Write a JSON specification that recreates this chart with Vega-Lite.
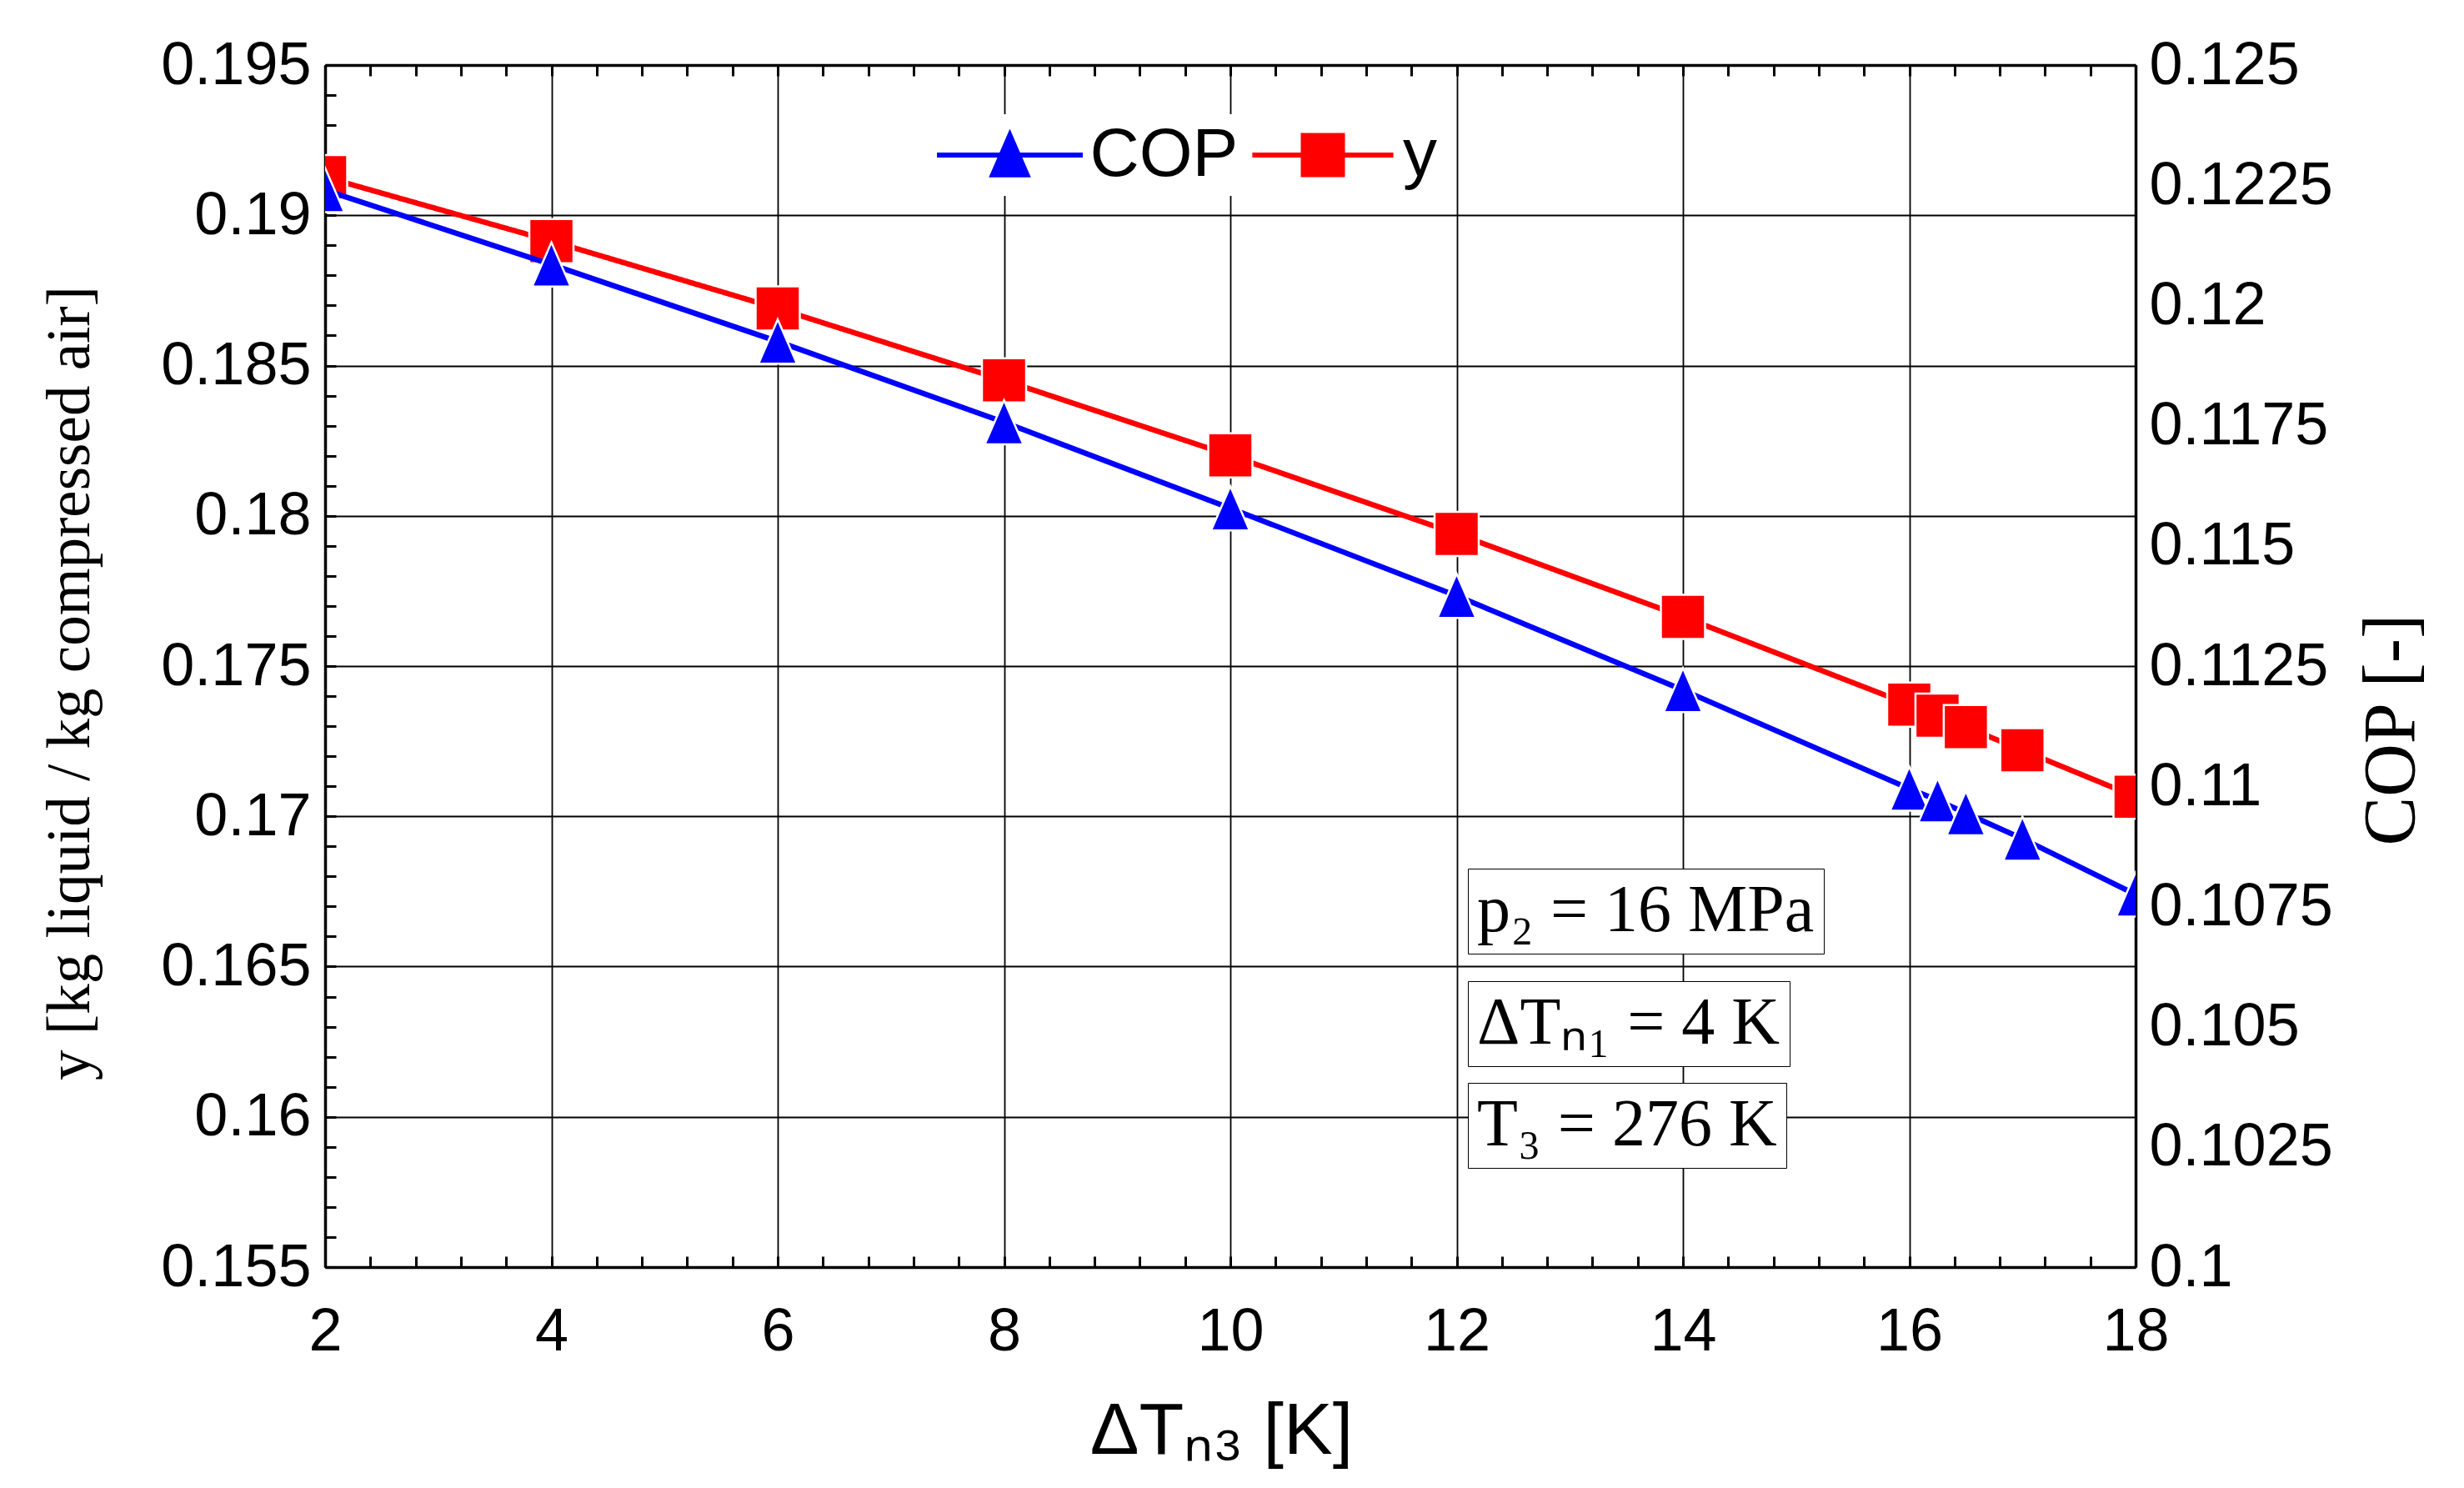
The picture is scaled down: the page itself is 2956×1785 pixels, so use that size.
{
  "$schema": "https://vega.github.io/schema/vega-lite/v6.json",
  "width": 2172,
  "height": 1442,
  "autosize": {"type": "none"},
  "padding": {"left": 390, "top": 78, "right": 394, "bottom": 265},
  "background": "white",
  "data": {
    "values": [
      {"dT": 2, "series": "y", "value": 0.19127},
      {"dT": 4, "series": "y", "value": 0.18914},
      {"dT": 6, "series": "y", "value": 0.1869},
      {"dT": 8, "series": "y", "value": 0.18451},
      {"dT": 10, "series": "y", "value": 0.18201},
      {"dT": 12, "series": "y", "value": 0.1794},
      {"dT": 14, "series": "y", "value": 0.17664},
      {"dT": 16, "series": "y", "value": 0.17372},
      {"dT": 16.25, "series": "y", "value": 0.17335},
      {"dT": 16.5, "series": "y", "value": 0.17297},
      {"dT": 17, "series": "y", "value": 0.1722},
      {"dT": 18, "series": "y", "value": 0.17065},
      {"dT": 2, "series": "COP", "value": 0.1224},
      {"dT": 4, "series": "COP", "value": 0.12085},
      {"dT": 6, "series": "COP", "value": 0.11925},
      {"dT": 8, "series": "COP", "value": 0.11757},
      {"dT": 10, "series": "COP", "value": 0.11578},
      {"dT": 12, "series": "COP", "value": 0.11396},
      {"dT": 14, "series": "COP", "value": 0.112},
      {"dT": 16, "series": "COP", "value": 0.10995},
      {"dT": 16.25, "series": "COP", "value": 0.10971},
      {"dT": 16.5, "series": "COP", "value": 0.10944},
      {"dT": 17, "series": "COP", "value": 0.10891},
      {"dT": 18, "series": "COP", "value": 0.10775}
    ]
  },
  "layer": [
    {
      "transform": [{"filter": "datum.series === 'y'"}],
      "encoding": {
        "x": {
          "field": "dT",
          "type": "quantitative",
          "scale": {"domain": [2, 18], "nice": false, "zero": false},
          "axis": {
            "orient": "bottom",
            "values": [2, 2.4, 2.8, 3.2, 3.6, 4, 4.4, 4.8, 5.2, 5.6, 6, 6.4, 6.8, 7.2, 7.6, 8, 8.4, 8.8, 9.2, 9.6, 10, 10.4, 10.8, 11.2, 11.6, 12, 12.4, 12.8, 13.2, 13.6, 14, 14.4, 14.8, 15.2, 15.6, 16, 16.4, 16.8, 17.2, 17.6, 18],
            "format": "~g",
            "labelExpr": "datum.value % 2 === 0 ? datum.label : ''",
            "grid": true,
            "gridOpacity": {"condition": {"test": "datum.value % 2 === 0", "value": 1}, "value": 0},
            "tickSize": -13,
            "labelPadding": 55,
            "labelFlush": false,
            "labelOverlap": false,
            "labelBound": false,
            "title": "ΔTₙ₃ [K]",
            "titleFont": "Liberation Sans",
            "titleFontSize": 88,
            "titleX": 1075,
            "titleY": 223,
            "titleBaseline": "alphabetic",
            "titleAlign": "center"
          }
        },
        "y": {
          "field": "value",
          "type": "quantitative",
          "scale": {"domain": [0.155, 0.195], "nice": false, "zero": false},
          "axis": {
            "orient": "left",
            "values": [0.155, 0.156, 0.157, 0.158, 0.159, 0.16, 0.161, 0.162, 0.163, 0.164, 0.165, 0.166, 0.167, 0.168, 0.169, 0.17, 0.171, 0.172, 0.173, 0.174, 0.175, 0.176, 0.177, 0.178, 0.179, 0.18, 0.181, 0.182, 0.183, 0.184, 0.185, 0.186, 0.187, 0.188, 0.189, 0.19, 0.191, 0.192, 0.193, 0.194, 0.195],
            "format": ".3~f",
            "labelExpr": "abs(datum.value * 200 - round(datum.value * 200)) < 0.01 ? datum.label : ''",
            "grid": true,
            "gridOpacity": {"condition": {"test": "abs(datum.value * 200 - round(datum.value * 200)) < 0.01", "value": 1}, "value": 0},
            "tickSize": -13,
            "labelPadding": 30,
            "labelOverlap": false,
            "labelBound": false,
            "title": "y [kg liquid / kg compressed air]",
            "titleFont": "Liberation Serif",
            "titleFontSize": 73,
            "titleAngle": 270,
            "titleX": -284,
            "titleY": 741,
            "titleBaseline": "alphabetic",
            "titleAlign": "center"
          }
        }
      },
      "layer": [
        {
          "mark": {"type": "line", "color": "#ff0000", "clip": true},
          "encoding": {
            "strokeDash": {
              "datum": "p₂ = 16 MPa",
              "type": "nominal",
              "scale": {"range": [[1, 0]]},
              "legend": {
                "orient": "none", "legendX": 1371, "legendY": 964, "title": null,
                "fillColor": "white", "strokeColor": "black", "padding": 11,
                "labelFont": "Liberation Serif", "labelFontSize": 80, "labelColor": "black", "labelLimit": 1000,
                "symbolOpacity": 0, "symbolSize": 0, "symbolStrokeWidth": 0, "labelOffset": -80,
                "encode": {"legend": {"strokeWidth": {"value": 3}}}
              }
            },
            "strokeWidth": {
              "datum": "T₃ = 276 K",
              "type": "nominal",
              "scale": {"range": [6.5, 6.5]},
              "legend": {
                "orient": "none", "legendX": 1371, "legendY": 1221, "title": null,
                "fillColor": "white", "strokeColor": "black", "padding": 11,
                "labelFont": "Liberation Serif", "labelFontSize": 80, "labelColor": "black", "labelLimit": 1000,
                "symbolOpacity": 0, "symbolSize": 0, "symbolStrokeWidth": 0, "labelOffset": -80,
                "encode": {"legend": {"strokeWidth": {"value": 3}}}
              }
            }
          }
        },
        {
          "mark": {"type": "point", "shape": "square", "filled": true, "size": 2809, "stroke": "white", "strokeWidth": 2.5, "opacity": 1, "clip": true},
          "encoding": {
            "color": {
              "field": "series",
              "type": "nominal",
              "scale": {"domain": ["y"], "range": ["#ff0000"]},
              "legend": {
                "orient": "none", "legendX": 1104, "legendY": 59, "title": null,
                "fillColor": "white", "padding": 8,
                "labelFont": "Liberation Sans", "labelFontSize": 82, "labelColor": "black", "labelLimit": 1000,
                "labelOffset": 55, "symbolOffset": 44, "symbolSize": 2209,
                "symbolType": "M-3.6,0H3.6M-1,-1H1V1H-1Z",
                "symbolFillColor": "#ff0000", "symbolStrokeColor": "#ff0000", "symbolStrokeWidth": 6, "symbolOpacity": 1
              }
            }
          }
        }
      ]
    },
    {
      "transform": [{"filter": "datum.series === 'COP'"}],
      "encoding": {
        "x": {
          "field": "dT",
          "type": "quantitative",
          "scale": {"domain": [2, 18], "nice": false, "zero": false},
          "axis": {
            "orient": "top",
            "values": [2, 2.4, 2.8, 3.2, 3.6, 4, 4.4, 4.8, 5.2, 5.6, 6, 6.4, 6.8, 7.2, 7.6, 8, 8.4, 8.8, 9.2, 9.6, 10, 10.4, 10.8, 11.2, 11.6, 12, 12.4, 12.8, 13.2, 13.6, 14, 14.4, 14.8, 15.2, 15.6, 16, 16.4, 16.8, 17.2, 17.6, 18],
            "labels": false,
            "grid": false,
            "tickSize": -13,
            "title": null
          }
        },
        "y": {
          "field": "value",
          "type": "quantitative",
          "scale": {"domain": [0.1, 0.125], "nice": false, "zero": false},
          "axis": {
            "orient": "right",
            "values": [0.1, 0.1025, 0.105, 0.1075, 0.11, 0.1125, 0.115, 0.1175, 0.12, 0.1225, 0.125],
            "format": ".4~f",
            "ticks": false,
            "grid": false,
            "labelPadding": 16,
            "labelOverlap": false,
            "labelBound": false,
            "title": "COP [-]",
            "titleFont": "Liberation Serif",
            "titleFontSize": 88,
            "titleAngle": 270,
            "titleX": 333,
            "titleY": 797,
            "titleBaseline": "alphabetic",
            "titleAlign": "center"
          }
        }
      },
      "layer": [
        {
          "mark": {"type": "line", "color": "#0000ff", "strokeWidth": 6.5, "clip": true},
          "encoding": {
            "opacity": {
              "datum": "ΔTₙ₁ = 4 K",
              "type": "nominal",
              "scale": {"range": [1, 1]},
              "legend": {
                "orient": "none", "legendX": 1371, "legendY": 1099, "title": null,
                "fillColor": "white", "strokeColor": "black", "padding": 11,
                "labelFont": "Liberation Serif", "labelFontSize": 80, "labelColor": "black", "labelLimit": 1000,
                "symbolOpacity": 0, "symbolSize": 0, "symbolStrokeWidth": 0, "labelOffset": -80,
                "encode": {"legend": {"strokeWidth": {"value": 3}}}
              }
            }
          }
        },
        {
          "mark": {"type": "point", "shape": "M0,-1L0.87,1L-0.87,1Z", "filled": true, "size": 2809, "stroke": "white", "strokeWidth": 2.5, "opacity": 1, "clip": true},
          "encoding": {
            "color": {
              "field": "series",
              "type": "nominal",
              "scale": {"domain": ["COP"], "range": ["#0000ff"]},
              "legend": {
                "orient": "none", "legendX": 726, "legendY": 59, "title": null,
                "fillColor": "white", "padding": 8,
                "labelFont": "Liberation Sans", "labelFontSize": 82, "labelColor": "black", "labelLimit": 1000,
                "labelOffset": 55, "symbolOffset": 46.5, "symbolSize": 2809,
                "symbolType": "M-3.3,0H3.3M0,-0.9L0.78,0.9L-0.78,0.9Z",
                "symbolFillColor": "#0000ff", "symbolStrokeColor": "#0000ff", "symbolStrokeWidth": 6, "symbolOpacity": 1
              }
            }
          }
        }
      ]
    }
  ],
  "resolve": {"scale": {"y": "independent", "color": "independent"}, "axis": {"x": "independent"}, "legend": {"color": "independent"}},
  "config": {
    "view": {"stroke": null},
    "axis": {
      "domainColor": "black",
      "domainWidth": 3.5,
      "tickColor": "black",
      "tickWidth": 3,
      "gridColor": "black",
      "gridWidth": 1.8,
      "labelColor": "black",
      "labelFont": "Liberation Sans",
      "labelFontSize": 72,
      "labelLimit": 1000,
      "titleColor": "black",
      "titleFontWeight": "normal"
    }
  }
}
